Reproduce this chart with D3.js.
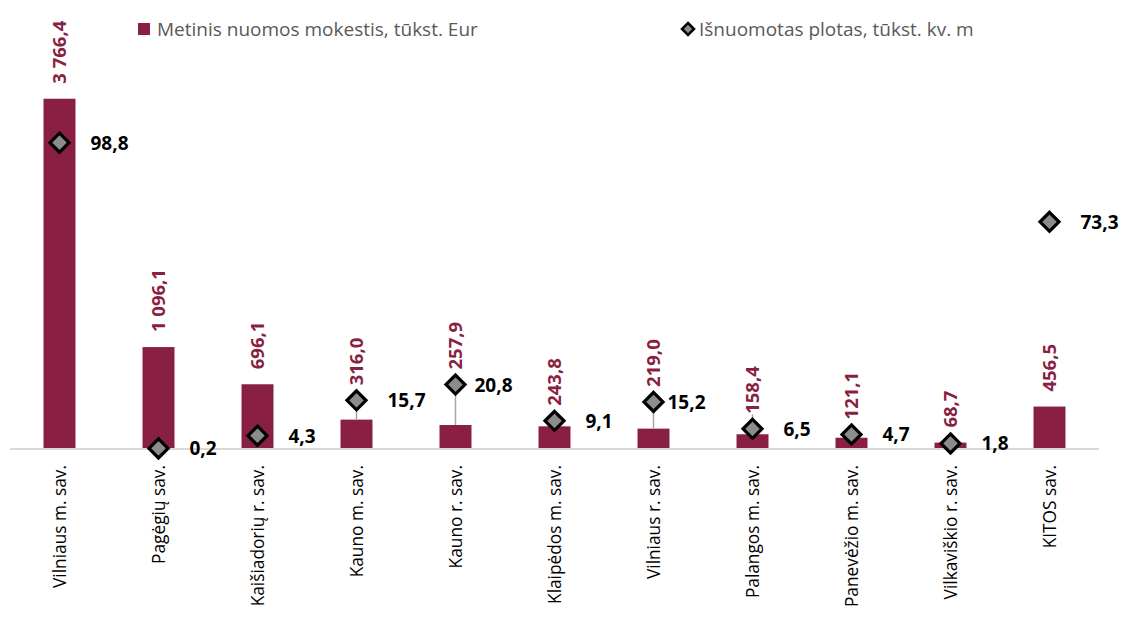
<!DOCTYPE html>
<html><head><meta charset="utf-8">
<script src="https://cdn.jsdelivr.net/npm/d3@7"></script>
<style>
html,body{margin:0;padding:0;background:#fff;}
svg{display:block;font-family:"Open Sans","Noto Sans",sans-serif;}
</style></head>
<body>
<svg id="c" width="1123" height="617"></svg>
<script>
const categories = ["Vilniaus m. sav.","Pagėgių sav.","Kaišiadorių r. sav.","Kauno m. sav.","Kauno r. sav.","Klaipėdos m. sav.","Vilniaus r. sav.","Palangos m. sav.","Panevėžio m. sav.","Vilkaviškio r. sav.","KITOS sav."];
const rentValues = [3766.4,1096.1,696.1,316.0,257.9,243.8,219.0,158.4,121.1,68.7,456.5];
const rentLabels = ["3 766,4","1 096,1","696,1","316,0","257,9","243,8","219,0","158,4","121,1","68,7","456,5"];
const areaValues = [98.8,0.2,4.3,15.7,20.8,9.1,15.2,6.5,4.7,1.8,73.3];
const areaLabels = ["98,8","0,2","4,3","15,7","20,8","9,1","15,2","6,5","4,7","1,8","73,3"];
const seriesNames = ["Metinis nuomos mokestis, tūkst. Eur","Išnuomotas plotas, tūkst. kv. m"];
// styling helpers (label offsets / which points get a drop line)
const areaLabelDx = [31,31,31,31,19,31,14,31,31,31,31];
const dropLine = [false,false,false,true,true,false,true,true,false,false,false];
const labelAboveDiamond = [false,false,false,true,true,true,true,true,true,true,false];

const BAR = "#891F42";
const svg = d3.select("#c");
const x = d3.scaleBand().domain(categories).range([10,1099]).padding(0);
const y1 = d3.scaleLinear().domain([0,4000]).range([449,77]);
const y2 = d3.scaleLinear().domain([0,120]).range([449,77]);
const bw = x.bandwidth()*0.323;
const cx = c => x(c) + x.bandwidth()/2;

// bars
svg.append("g").selectAll("rect").data(categories).join("rect")
  .attr("x", c => cx(c)-bw/2)
  .attr("width", bw)
  .attr("y", (c,i) => y1(rentValues[i]))
  .attr("height", (c,i) => y1(0)-y1(rentValues[i]))
  .attr("fill", BAR);

// axis line
svg.append("line").attr("x1",10).attr("x2",1099).attr("y1",y1(0)).attr("y2",y1(0))
  .attr("stroke","#d9d9d9").attr("stroke-width",2);

// drop lines between diamond and bar top
svg.append("g").selectAll("line").data(categories.filter((c,i)=>dropLine[i])).join("line")
  .attr("x1", cx).attr("x2", cx)
  .attr("y1", c => { const i = categories.indexOf(c); return Math.min(y2(areaValues[i]), y1(rentValues[i]) - 20); })
  .attr("y2", c => { const i = categories.indexOf(c); return Math.max(y2(areaValues[i]), y1(rentValues[i])); })
  .attr("stroke","#a6a6a6").attr("stroke-width",1.5);

// diamonds
const ds = 9.5;
svg.append("g").selectAll("path").data(categories).join("path")
  .attr("d", (c,i) => {
    const px = cx(c), py = y2(areaValues[i]);
    return `M${px},${py-ds}L${px+ds},${py}L${px},${py+ds}L${px-ds},${py}Z`;
  })
  .attr("fill","#8c8c8c").attr("stroke","#000").attr("stroke-width",3.2).attr("stroke-linejoin","miter");

// bar value labels (rotated)
svg.append("g").selectAll("text").data(categories).join("text")
  .attr("transform", (c,i) => {
    let top = y1(rentValues[i]);
    if (labelAboveDiamond[i]) top = Math.min(top, y2(areaValues[i]));
    return `translate(${cx(c)+6.5},${top-15}) rotate(-90)`;
  })
  .attr("text-anchor","start")
  .attr("font-size",18.5).attr("font-weight","bold").attr("fill",BAR)
  .text((c,i) => rentLabels[i]);

// area value labels
svg.append("g").selectAll("text").data(categories).join("text")
  .attr("x", (c,i) => cx(c)+areaLabelDx[i])
  .attr("y", (c,i) => y2(areaValues[i])+7)
  .attr("font-size",19).attr("font-weight","bold").attr("fill","#000")
  .text((c,i) => areaLabels[i]);

// category labels
svg.append("g").selectAll("text").data(categories).join("text")
  .attr("transform", c => `translate(${cx(c)+6.5},465) rotate(-90)`)
  .attr("text-anchor","end")
  .attr("font-size",17.3).attr("fill","#000")
  .text(c => c);

// legend
const lg = svg.append("g");
lg.append("rect").attr("x",138).attr("y",23).attr("width",12).attr("height",12).attr("fill",BAR);
lg.append("text").attr("x",157).attr("y",36).attr("font-size",19).attr("fill","#595959").text(seriesNames[0]);
const lx=688, ly=29, ls=6;
lg.append("path").attr("d",`M${lx},${ly-ls}L${lx+ls},${ly}L${lx},${ly+ls}L${lx-ls},${ly}Z`)
  .attr("fill","#8c8c8c").attr("stroke","#000").attr("stroke-width",2.5);
lg.append("text").attr("x",699).attr("y",36).attr("font-size",19).attr("fill","#595959").text(seriesNames[1]);
</script>
</body></html>
